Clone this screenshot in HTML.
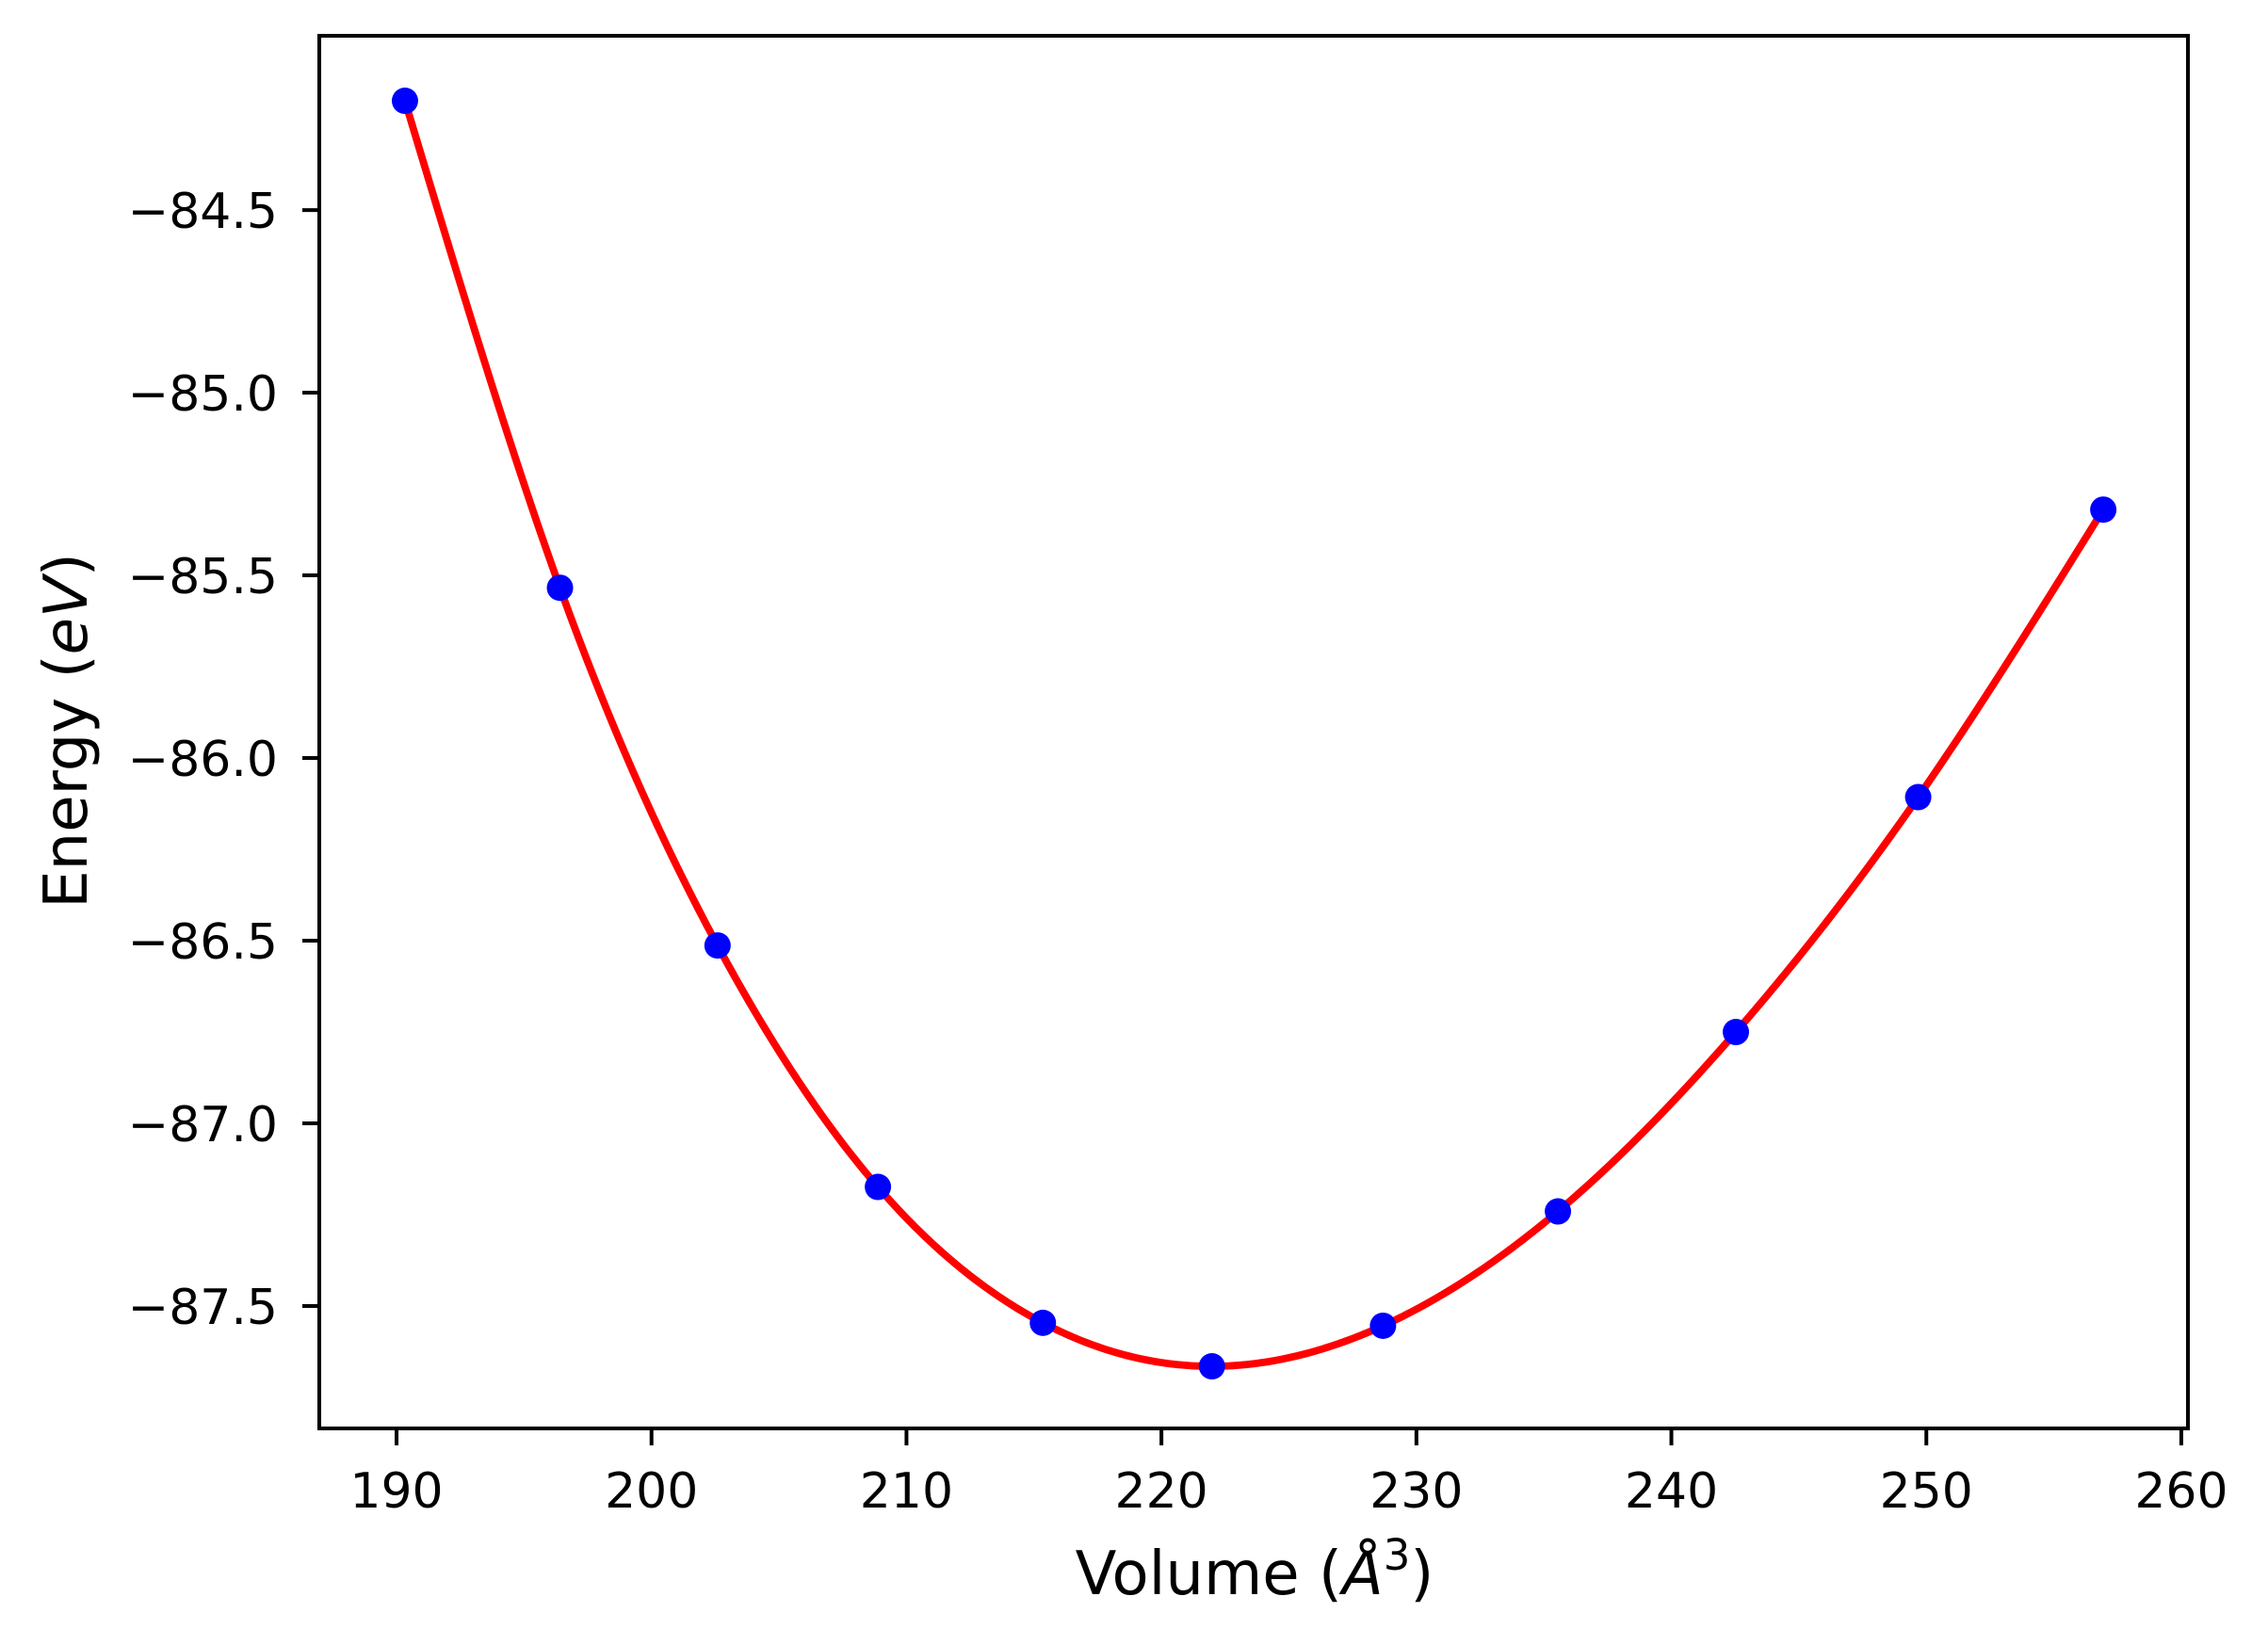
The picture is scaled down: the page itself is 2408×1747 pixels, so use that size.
<!DOCTYPE html>
<html><head><meta charset="utf-8"><style>
html,body{margin:0;padding:0;background:#fff;}
svg{display:block;}
text{font-family:"DejaVu Sans","Liberation Sans",sans-serif;fill:#000;}
</style></head><body>
<svg id="chart" width="2408" height="1747" viewBox="0 0 2408 1747" xmlns="http://www.w3.org/2000/svg">
<rect x="0" y="0" width="2408" height="1747" fill="#fff"/>
<g id="plot"></g>
<text x="1332" y="1693" font-size="64" text-anchor="middle">Volume (<tspan font-style="italic">Å</tspan><tspan font-size="45" dy="-26">3</tspan><tspan dy="26">)</tspan></text>
<text transform="translate(92,776) rotate(-90)" font-size="64" text-anchor="middle">Energy (<tspan font-style="italic">eV</tspan>)</text>
</svg>
<script>
const volumes = [190.33, 196.41, 202.59, 208.88, 215.35, 221.98, 228.69, 235.55, 242.53, 249.68, 256.94];
const energies = [-84.201, -85.534, -86.513, -87.174, -87.546, -87.665, -87.554, -87.241, -86.75, -86.107, -85.32];
const xTicks = [190, 200, 210, 220, 230, 240, 250, 260];
const yTicks = [-84.5, -85.0, -85.5, -86.0, -86.5, -87.0, -87.5];

const L = 339, R = 2323, T = 38, B = 1517;
const X0 = 186.97, X1 = 260.26, Y0 = -87.835, Y1 = -84.023;
function sx(v){ return L + (v - X0) / (X1 - X0) * (R - L); }
function sy(v){ return B - (v - Y0) / (Y1 - Y0) * (B - T); }

const NS = "http://www.w3.org/2000/svg";
const g = document.getElementById('plot');
function mk(tag, attrs){ const e = document.createElementNS(NS, tag); for (const k in attrs) e.setAttribute(k, attrs[k]); g.appendChild(e); return e; }

// natural cubic spline
function spline(xs, ys){
  const n = xs.length, h = [], a = [], l = [1], mu = [0], z = [0], c = new Array(n).fill(0), b = [], d = [];
  for (let i = 0; i < n - 1; i++) h.push(xs[i+1] - xs[i]);
  for (let i = 1; i < n - 1; i++) a[i] = 3/h[i]*(ys[i+1]-ys[i]) - 3/h[i-1]*(ys[i]-ys[i-1]);
  for (let i = 1; i < n - 1; i++){ l[i] = 2*(xs[i+1]-xs[i-1]) - h[i-1]*mu[i-1]; mu[i] = h[i]/l[i]; z[i] = (a[i]-h[i-1]*z[i-1])/l[i]; }
  for (let j = n - 2; j >= 0; j--){ c[j] = (j < n-1 ? z[j] : 0) - mu[j]*c[j+1]; if (j===0) c[0]=0; b[j] = (ys[j+1]-ys[j])/h[j] - h[j]*(c[j+1]+2*c[j])/3; d[j] = (c[j+1]-c[j])/(3*h[j]); }
  return function(x){ let i = 0; while (i < n - 2 && x > xs[i+1]) i++; const t = x - xs[i]; return ys[i] + b[i]*t + c[i]*t*t + d[i]*t*t*t; };
}
const f = spline(volumes, energies);
let dstr = '';
const v0 = volumes[0], v1 = volumes[volumes.length-1];
for (let k = 0; k <= 400; k++){ const v = v0 + (v1 - v0) * k / 400; dstr += (k ? 'L' : 'M') + sx(v).toFixed(2) + ',' + sy(f(v)).toFixed(2); }
const curve = mk('path', {d: dstr, fill: 'none', stroke: '#ff0000', 'stroke-width': 7.8, 'stroke-linejoin': 'round'});



volumes.forEach((v, i) => {
  const c = mk('circle', {cx: sx(v), cy: sy(energies[i]), r: 14, fill: '#0000ff'});
  
  
});

const frame = mk('rect', {x: L, y: T, width: R - L, height: B - T, fill: 'none', stroke: '#000', 'stroke-width': 4});



xTicks.forEach(t => {
  const x = sx(t);
  const ln = mk('line', {x1: x, y1: B, x2: x, y2: B + 18, stroke: '#000', 'stroke-width': 4});
  
  
  const tx = mk('text', {x: x, y: 1601, 'font-size': 52, 'text-anchor': 'middle'});
  tx.textContent = String(t);
  
  
});
yTicks.forEach(t => {
  const y = sy(t);
  const ln = mk('line', {x1: L - 18, y1: y, x2: L, y2: y, stroke: '#000', 'stroke-width': 4});
  
  
  const tx = mk('text', {x: 295, y: y + 19, 'font-size': 52, 'text-anchor': 'end'});
  tx.textContent = '\u2212' + Math.abs(t).toFixed(1);
  
  
});
</script>
</body></html>
